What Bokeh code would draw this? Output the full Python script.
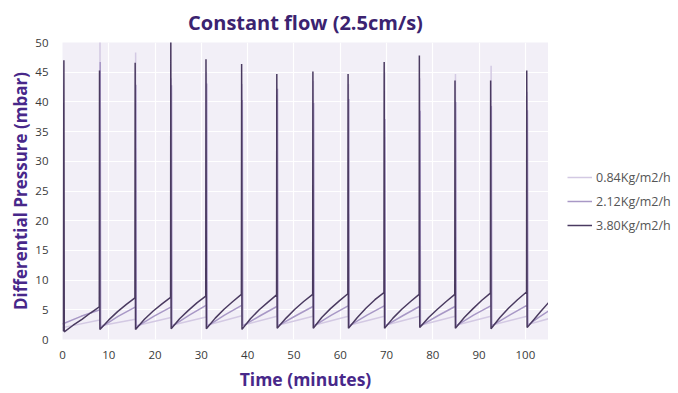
from bokeh.plotting import figure
from bokeh.layouts import row
from bokeh.models import Range1d, FixedTicker, Legend, LegendItem
from bokeh.embed import file_html
from bokeh.resources import INLINE

# ---------------- data ----------------
series_names = ["0.84Kg/m2/h", "2.12Kg/m2/h", "3.80Kg/m2/h"]

x_ticks = [0, 10, 20, 30, 40, 50, 60, 70, 80, 90, 100]
y_ticks = [0, 5, 10, 15, 20, 25, 30, 35, 40, 45, 50]

# 0.84 Kg/m2/h (lightest)
light_t = [0.0, 8.05, 8.1, 8.18,
           15.75, 15.8, 15.88,
           23.45, 23.5, 23.58,
           31.05, 31.1, 31.18,
           38.75, 38.8, 38.88,
           46.35, 46.4, 46.48,
           54.15, 54.2, 54.28,
           61.75, 61.8, 61.88,
           69.55, 69.6, 69.68,
           77.15, 77.2, 77.28,
           84.85, 84.9, 84.98,
           92.55, 92.6, 92.68,
           100.35, 100.4, 100.48,
           105.0]
light_v = [2.0, 3.3, 51.0, 2.3,
           3.4, 48.3, 2.3,
           3.7, 44.0, 2.4,
           3.8, 45.0, 2.4,
           4.0, 43.0, 2.4,
           3.9, 42.0, 2.4,
           3.9, 43.5, 2.4,
           3.9, 43.0, 2.4,
           3.9, 45.0, 2.4,
           3.9, 44.0, 2.4,
           3.9, 44.7, 2.4,
           3.9, 46.1, 2.4,
           3.9, 41.7, 2.5,
           3.5]

# 2.12 Kg/m2/h (medium)
mid_t = [0.0, 4.0, 8.1, 8.15, 8.23,
         12.0, 15.8, 15.85, 15.93,
         19.7, 23.5, 23.55, 23.63,
         27.4, 31.1, 31.15, 31.23,
         35.0, 38.8, 38.85, 38.93,
         42.7, 46.4, 46.45, 46.53,
         50.4, 54.2, 54.25, 54.33,
         58.1, 61.8, 61.85, 61.93,
         65.8, 69.6, 69.65, 69.73,
         73.5, 77.2, 77.25, 77.33,
         81.1, 84.9, 84.95, 85.03,
         88.8, 92.6, 92.65, 92.73,
         96.6, 100.4, 100.45, 100.53,
         102.8, 105.0]
mid_v = [2.6, 3.9, 5.0, 46.7, 2.0,
         3.9, 5.5, 42.9, 2.1,
         3.9, 5.5, 42.8, 2.2,
         4.1, 5.8, 43.1, 2.2,
         4.1, 5.8, 40.3, 2.3,
         4.0, 5.6, 42.2, 2.3,
         4.0, 5.6, 39.8, 2.3,
         4.1, 5.7, 40.5, 2.3,
         4.1, 5.7, 37.1, 2.3,
         4.0, 5.6, 38.5, 2.3,
         4.0, 5.6, 40.0, 2.3,
         4.1, 5.7, 39.3, 2.3,
         4.1, 5.8, 38.6, 2.4,
         3.7, 4.8]

# 3.80 Kg/m2/h (darkest)
dark_t = [0.15, 0.3, 0.38, 2.3, 4.2, 6.1, 7.95,
          8.0, 8.08, 10.0, 11.9, 13.8, 15.65,
          15.7, 15.78, 17.7, 19.6, 21.5, 23.35,
          23.4, 23.48, 25.3, 27.2, 29.1, 30.95,
          31.0, 31.08, 33.0, 34.9, 36.8, 38.65,
          38.7, 38.78, 40.6, 42.5, 44.4, 46.25,
          46.3, 46.38, 48.3, 50.2, 52.1, 54.05,
          54.1, 54.18, 56.0, 57.9, 59.8, 61.65,
          61.7, 61.78, 63.7, 65.6, 67.5, 69.45,
          69.5, 69.58, 71.4, 73.3, 75.2, 77.05,
          77.1, 77.18, 79.1, 81.0, 82.9, 84.75,
          84.8, 84.88, 86.8, 88.7, 90.6, 92.45,
          92.5, 92.58, 94.5, 96.4, 98.3, 100.25,
          100.3, 100.38, 101.9, 103.4, 105.0]
dark_v = [1.4, 47.0, 1.3, 2.4, 3.4, 4.5, 5.5,
          45.3, 1.7, 3.3, 4.7, 5.9, 7.0,
          46.6, 1.7, 3.4, 4.8, 6.0, 7.1,
          52.0, 1.8, 3.5, 4.9, 6.2, 7.3,
          47.2, 1.8, 3.6, 5.1, 6.4, 7.6,
          46.4, 1.7, 3.5, 5.0, 6.3, 7.5,
          44.7, 1.9, 3.6, 5.1, 6.4, 7.6,
          45.1, 1.9, 3.7, 5.2, 6.5, 7.7,
          44.7, 1.9, 3.7, 5.3, 6.7, 7.9,
          46.7, 1.9, 3.6, 5.1, 6.4, 7.6,
          47.8, 2.0, 3.7, 5.1, 6.4, 7.6,
          43.6, 1.9, 3.7, 5.2, 6.6, 7.8,
          43.6, 1.8, 3.7, 5.3, 6.7, 8.0,
          45.3, 2.0, 3.4, 4.8, 6.2]

colors = ["#d3c9e3", "#a898c6", "#4a3a60"]
series_t = [light_t, mid_t, dark_t]
series_v = [light_v, mid_v, dark_v]

# ---------------- main figure ----------------
p = figure(width=548, height=393, output_backend="svg", toolbar_location=None,
           x_range=Range1d(0, 105), y_range=Range1d(0, 50),
           min_border_left=62, min_border_right=0,
           min_border_top=42, min_border_bottom=53)

p.title.text = "Constant flow (2.5cm/s)"
p.title.align = "center"
p.title.text_font = "Open Sans"
p.title.text_font_style = "bold"
p.title.text_font_size = "20px"
p.title.text_color = "#3b2370"
p.title.offset = 5
p.title.standoff = 13

p.background_fill_color = "#f2eff7"
p.border_fill_color = "white"
p.outline_line_color = None

p.xgrid.grid_line_color = "white"
p.ygrid.grid_line_color = "white"
p.xgrid.grid_line_width = 1.2
p.ygrid.grid_line_width = 1.2

p.xaxis.ticker = FixedTicker(ticks=x_ticks)
p.yaxis.ticker = FixedTicker(ticks=y_ticks)

for ax in (p.xaxis, p.yaxis):
    ax.axis_line_color = None
    ax.major_tick_line_color = None
    ax.minor_tick_line_color = None
    ax.major_tick_out = 0
    ax.major_tick_in = 0
    ax.major_label_text_font = "Open Sans"
    ax.major_label_text_font_size = "11.5px"
    ax.major_label_text_color = "#3a3a3a"
    ax.axis_label_text_font = "Open Sans"
    ax.axis_label_text_font_style = "bold"
    ax.axis_label_text_font_size = "17px"
    ax.axis_label_text_color = "#48288a"

p.xaxis.axis_label = "Time (minutes)"
p.xaxis.axis_label_text_font_size = "17.5px"
p.yaxis.axis_label = "Differential Pressure (mbar)"
p.xaxis.major_label_standoff = 11
p.yaxis.major_label_standoff = 14
p.xaxis.axis_label_standoff = 5
p.yaxis.axis_label_standoff = 0

for t, v, c in zip(series_t, series_v, colors):
    p.line(t, v, line_color=c, line_width=1.5)

# ---------------- legend panel ----------------
# the same series are drawn here outside the visible range, only to key the legend
q = figure(width=130, height=393, output_backend="svg", toolbar_location=None,
           x_range=Range1d(-20, -10), y_range=Range1d(-20, -10), min_border=0)
q.axis.visible = False
q.grid.visible = False
q.outline_line_color = None
q.background_fill_color = "white"
q.border_fill_color = "white"

legend_renderers = [q.line(t, v, line_color=c, line_width=1.5)
                    for t, v, c in zip(series_t, series_v, colors)]

legend = Legend(items=[LegendItem(label=n, renderers=[r])
                       for n, r in zip(series_names, legend_renderers)],
                location=(19, 104))
legend.border_line_color = None
legend.background_fill_alpha = 0
legend.padding = 0
legend.margin = 0
legend.spacing = 4
legend.glyph_width = 25
legend.glyph_height = 20
legend.label_height = 20
legend.label_standoff = 4
legend.label_text_font = "Open Sans"
legend.label_text_font_size = "12.5px"
legend.label_text_color = "#555555"
q.add_layout(legend, "center")

layout = row(p, q, spacing=0)

open("out.html", "w").write(file_html(layout, INLINE))
